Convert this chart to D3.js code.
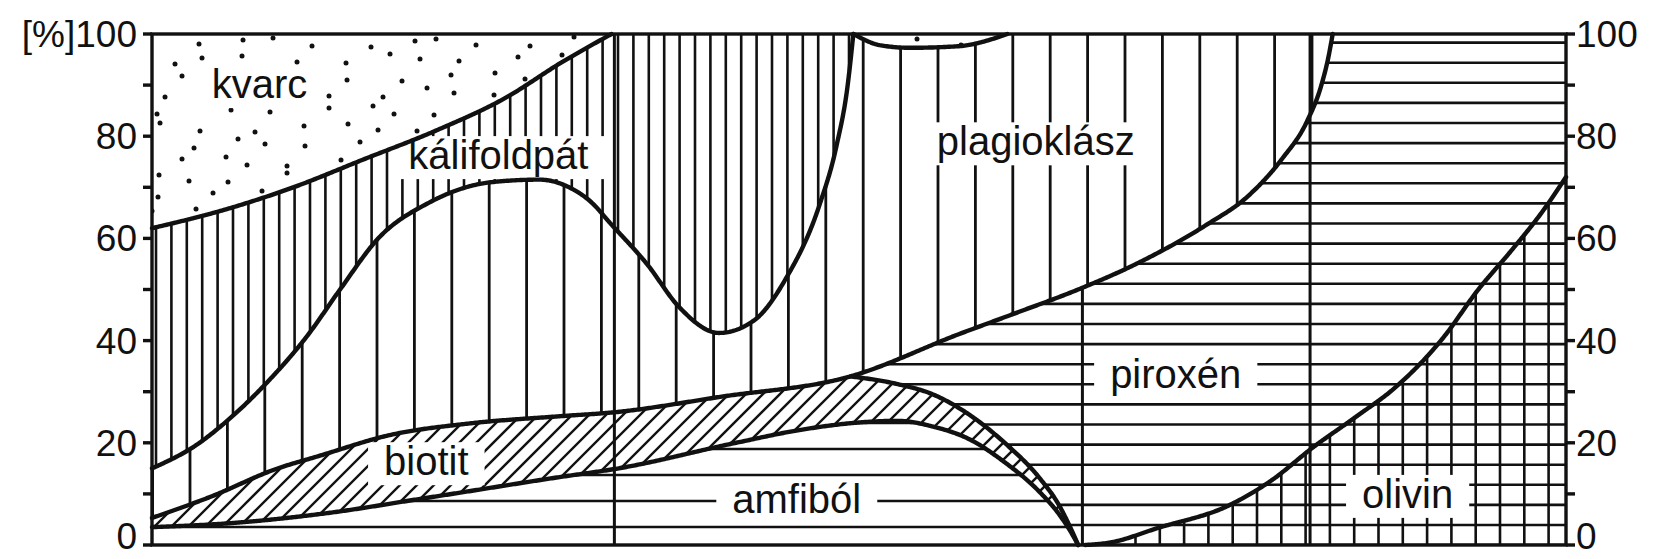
<!DOCTYPE html>
<html><head><meta charset="utf-8">
<script src="https://cdn.jsdelivr.net/npm/d3@7"></script>
<style>
html,body{margin:0;padding:0;background:#fff;}
svg{display:block;}
text{font-family:"Liberation Sans",Arial,Helvetica,sans-serif;fill:#111;}
</style></head>
<body><svg id="chart" width="1657" height="559"></svg>
<script>
// ---------------- data (x: position along the rock series 0..100, y: volume %) ----------------
const kvarcX = [0,5,10,15,20,25,29,32.5];
const kvarcY = [62,65.5,70,75.5,81,87.5,94.5,100];
const kaliX = [0,3.1,5.6,8.2,11,13.3,16,19.6,24,27.4,29.5,31.1,32.4,35,37.3,40.1,42.6,44.8,47.2,48.4,49.2,49.6];
const kaliY = [15,19.5,25,32,41,50,60,67,71,71.5,70,67,63,55,46.5,41.5,44,52,66.5,78,90,100];
const plagX = [0,4.2,8.7,11.9,16.8,22.5,28.85,32.8,40.2,49.4,57.1,61,65.5,69.6,74.6,77.4,79.9,81.7,82.7,83.2,83.5];
const plagY = [5.3,9.5,14.8,17.5,21.5,23.8,25.2,26,29,33,41.3,45.3,50,55,62.7,68,75.5,83,90,95.5,100];
const biotitX = [49.4,52.7,55.2,57.8,60.3,62.8,64.1,65.1,65.5];
const biotitY = [33,31.5,29.5,25.5,20,13,8,2.5,0];
const amfibolX = [0,5.7,12,19.6,28.85,33,41.3,45.8,50.1,52.7,55.2,57.8,60.3,62.8,64.1,65.1,65.5];
const amfibolY = [3.5,4.3,6.1,9.3,13.3,15,20,22.5,24,24.3,23.2,20.7,16.2,10.3,6.2,2,0];
const olivinX = [66,67.8,71.1,76.2,79.1,82.2,85.1,88,91.3,93.8,96.1,98.4,100];
const olivinY = [0,0.5,3.3,7.8,12.5,19.3,25,31,40.5,50,57.5,65.5,72];
const kvarc2X = [49.6,51.5,53.6,57,60.5];
const kvarc2Y = [100,97.8,97.3,97.6,100];
const dividerX = [32.7,65.8,81.9];
const labelNames = ["kvarc","kálifoldpát","plagioklász","piroxén","amfiból","biotit","olivin"];
const labelX = [7.6,24.5,62.5,72.4,45.6,19.4,88.8];
const labelY = [90.2,76.3,79,33.5,9,16.4,10];
const tickValues = [0,10,20,30,40,50,60,70,80,90,100];
const leftTickLabels = {0:"0",20:"20",40:"40",60:"60",80:"80",100:"[%]100"};
const rightTickLabels = {0:"0",20:"20",40:"40",60:"60",80:"80",100:"100"};

// ---------------- setup ----------------
const W=1657,H=559, INK="#111";
const svg=d3.select('#chart');
svg.append('rect').attr('width',W).attr('height',H).attr('fill','#fff');
const defs=svg.append('defs');
const x=d3.scaleLinear().domain([0,100]).range([152,1566]);
const y=d3.scaleLinear().domain([0,100]).range([545,34]);
const curveGen=d3.line().x(d=>x(d[0])).y(d=>y(d[1])).curve(d3.curveMonotoneX);
const zip=(a,b)=>a.map((v,i)=>[v,b[i]]);

function dense(xs,ys){
  const p=svg.append('path').attr('d',curveGen(zip(xs,ys))).attr('fill','none');
  const n=p.node(), L=n.getTotalLength(), out=[];
  for(let s=0;s<L;s+=1.5){const q=n.getPointAtLength(s);out.push([q.x,q.y]);}
  const e=n.getPointAtLength(L); out.push([e.x,e.y]);
  p.remove(); return out;
}
function sub(arr,a,b){const xa=x(a)-0.01,xb=x(b)+0.01;return arr.filter(p=>p[0]>=xa&&p[0]<=xb);}
const rev=a=>a.slice().reverse();
const P=(vx,vy)=>[x(vx),y(vy)];

const Q=dense(kvarcX,kvarcY), K=dense(kaliX,kaliY), PL=dense(plagX,plagY),
      B=dense(biotitX,biotitY), A=dense(amfibolX,amfibolY), O=dense(olivinX,olivinY),
      Q2=dense(kvarc2X,kvarc2Y);

// region polygons
const polyKvarc=[P(0,100),...Q];
const polyKvarc2=[...Q2];
const polyKali=[...K,P(32.5,100),...rev(Q)];
const polyPlag=[...PL,P(60.5,100),...rev(Q2),...rev(K)];
const polyBiotit=[...sub(PL,0,49.4),P(49.4,33),...B,...rev(A)];
const polyAmfibol=[...A,P(0,0)];
const polyPirox=[P(49.4,33),...sub(PL,49.4,83.5),P(100,100),...rev(O),P(65.5,0),...rev(B)];
const polyOlivin=[...O,P(100,0)];

function clipGroup(id,polys){
  const cp=defs.append('clipPath').attr('id',id);
  polys.forEach(pl=>cp.append('path').attr('d',d3.line()(pl)+'Z'));
  return svg.append('g').attr('clip-path',`url(#${id})`);
}
function vlines(g,x0,step,sw){
  let s=x0; while(s>140) s-=step;
  for(let xx=s;xx<=1575;xx+=step) g.append('line').attr('x1',xx).attr('x2',xx).attr('y1',25).attr('y2',550).attr('stroke',INK).attr('stroke-width',sw);
}
function hlines(g,y0,step,sw){
  let s=y0; while(s<550) s+=step;
  for(let yy=s;yy>=25;yy-=step) g.append('line').attr('x1',140).attr('x2',1580).attr('y1',yy).attr('y2',yy).attr('stroke',INK).attr('stroke-width',sw);
}

// kvarc stipple
const gK=clipGroup('c-kvarc',[polyKvarc,polyKvarc2]);
const jx=[0,9,-6,13,-10,4,-13,7,-3,11,-8,2,-11], jy=[0,4,-3,5,-4,2,-5,3,-1,4,-2];
let row=0;
for(let yy=42;yy<250;yy+=17,row++){
  let i=0;
  for(let xx=150+(row%2)*21;xx<1020;xx+=42,i++){
    gK.append('circle').attr('cx',xx+jx[(i*7+row*5)%jx.length]).attr('cy',yy+jy[(i*5+row*3)%jy.length]).attr('r',2.5).attr('fill',INK);
  }
}
// kálifoldpát: dense vertical hatch
vlines(clipGroup('c-kali',[polyKali]),156,15.4,2.6);
// plagioklász: sparse vertical hatch
vlines(clipGroup('c-plag',[polyPlag]),1312,37.4,2.8);
// biotit: diagonal hatch
const gB=clipGroup('c-bio',[polyBiotit]);
for(let c=-600;c<1600;c+=17) gB.append('line').attr('x1',c).attr('y1',550).attr('x2',c+525).attr('y2',25).attr('stroke',INK).attr('stroke-width',2.4);
// amfiból: horizontal hatch
hlines(clipGroup('c-amf',[polyAmfibol]),527,26,2.6);
// piroxén: horizontal hatch
hlines(clipGroup('c-pir',[polyPirox]),525,20.1,2.6);
// olivin: grid
const gO=clipGroup('c-oli',[polyOlivin]);
hlines(gO,525,20.1,2.6); vlines(gO,1257,24.3,2.6);

// labels with white boxes
const gL=svg.append('g');
labelNames.forEach((t,i)=>{
  const g=gL.append('g');
  const r=g.append('rect').attr('fill','#fff');
  const tx=g.append('text').attr('x',x(labelX[i])).attr('y',y(labelY[i])).attr('dy','0.35em')
    .attr('text-anchor','middle').attr('font-size',40).text(t);
  const bb=tx.node().getBBox(); const base=y(labelY[i])+14;
  r.attr('x',bb.x-16).attr('width',bb.width+32).attr('y',base-33).attr('height',43);
});

// dividers
dividerX.forEach(d=>{
  let top=100;
  if(d>60&&d<70){ // ends at the plagioklász boundary
    const px=x(d); let best=PL[0];
    PL.forEach(p=>{if(Math.abs(p[0]-px)<Math.abs(best[0]-px)) best=p;});
    top=y.invert(best[1]);
  }
  svg.append('line').attr('x1',x(d)).attr('x2',x(d)).attr('y1',y(0)).attr('y2',y(top)).attr('stroke',INK).attr('stroke-width',3);
});

// boundary curves
const bl=d3.line();
[Q,K,PL,B,A,O,Q2].forEach(c=>svg.append('path').attr('d',bl(c)).attr('fill','none').attr('stroke',INK).attr('stroke-width',4.4).attr('stroke-linejoin','round').attr('stroke-linecap','round'));

// frame and axes
const fr=svg.append('g').attr('stroke',INK).attr('stroke-width',3.4).attr('fill','none');
fr.append('rect').attr('x',x(0)).attr('y',y(100)).attr('width',x(100)-x(0)).attr('height',y(0)-y(100));
tickValues.forEach(v=>{
  fr.append('line').attr('x1',x(0)-9).attr('x2',x(0)).attr('y1',y(v)).attr('y2',y(v));
  fr.append('line').attr('x1',x(100)).attr('x2',x(100)+9).attr('y1',y(v)).attr('y2',y(v));
});
Object.keys(leftTickLabels).forEach(k=>{
  svg.append('text').attr('x',x(0)-15).attr('y',y(+k)-(+k===0?9:0)).attr('dy','0.35em').attr('text-anchor','end').attr('font-size',37).text(leftTickLabels[k]);
});
Object.keys(rightTickLabels).forEach(k=>{
  svg.append('text').attr('x',x(100)+10).attr('y',y(+k)-(+k===0?9:0)).attr('dy','0.35em').attr('text-anchor','start').attr('font-size',37).text(rightTickLabels[k]);
});
</script></body></html>
